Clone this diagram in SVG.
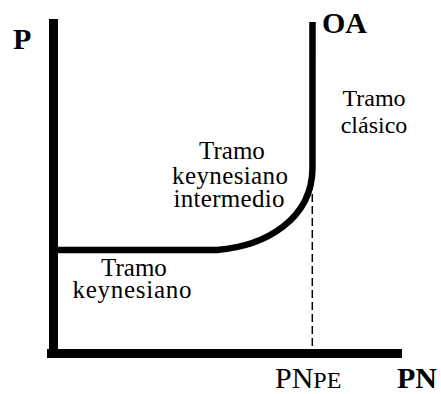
<svg xmlns="http://www.w3.org/2000/svg" width="441" height="394" viewBox="0 0 441 394">
<style>
.b{font-family:"Liberation Serif","Times New Roman",serif;font-weight:bold;font-size:30px;fill:#000}
.c{font-family:"Liberation Serif","Times New Roman",serif;font-size:24px;fill:#000;text-anchor:middle}
.m{font-size:25px}
</style>
<rect width="441" height="394" fill="#fff"/>
<g id="axes">
<rect x="49" y="19" width="9" height="339" fill="#000"/>
<rect x="47" y="349" width="355" height="9" fill="#000"/>
</g>
<g id="connectors">
<path d="M57,250 H217 C265,246 312,220 312.5,168 V22" fill="none" stroke="#000" stroke-width="6.5"/>
<line x1="312.3" y1="170" x2="312.3" y2="349" stroke="#000" stroke-width="1.5" stroke-dasharray="8,4"/>
</g>
<g id="labels">
<text class="b" x="13" y="49">P</text>
<text class="b" x="322" y="33">OA</text>
<text class="b" x="397" y="388">PN</text>
<text x="275" y="388" style="font-family:'Liberation Serif','Times New Roman',serif;font-size:30px">PN<tspan style="font-size:24px">PE</tspan></text>
<text class="c" x="374" y="106">Tramo</text>
<text class="c" x="374" y="133">clásico</text>
<text class="c m" x="232" y="159">Tramo</text>
<text class="c m" x="230" y="184" textLength="116">keynesiano</text>
<text class="c m" x="229" y="207" textLength="111">intermedio</text>
<text class="c m" x="134" y="276">Tramo</text>
<text class="c m" x="132" y="298" textLength="119">keynesiano</text>
</g>
</svg>
